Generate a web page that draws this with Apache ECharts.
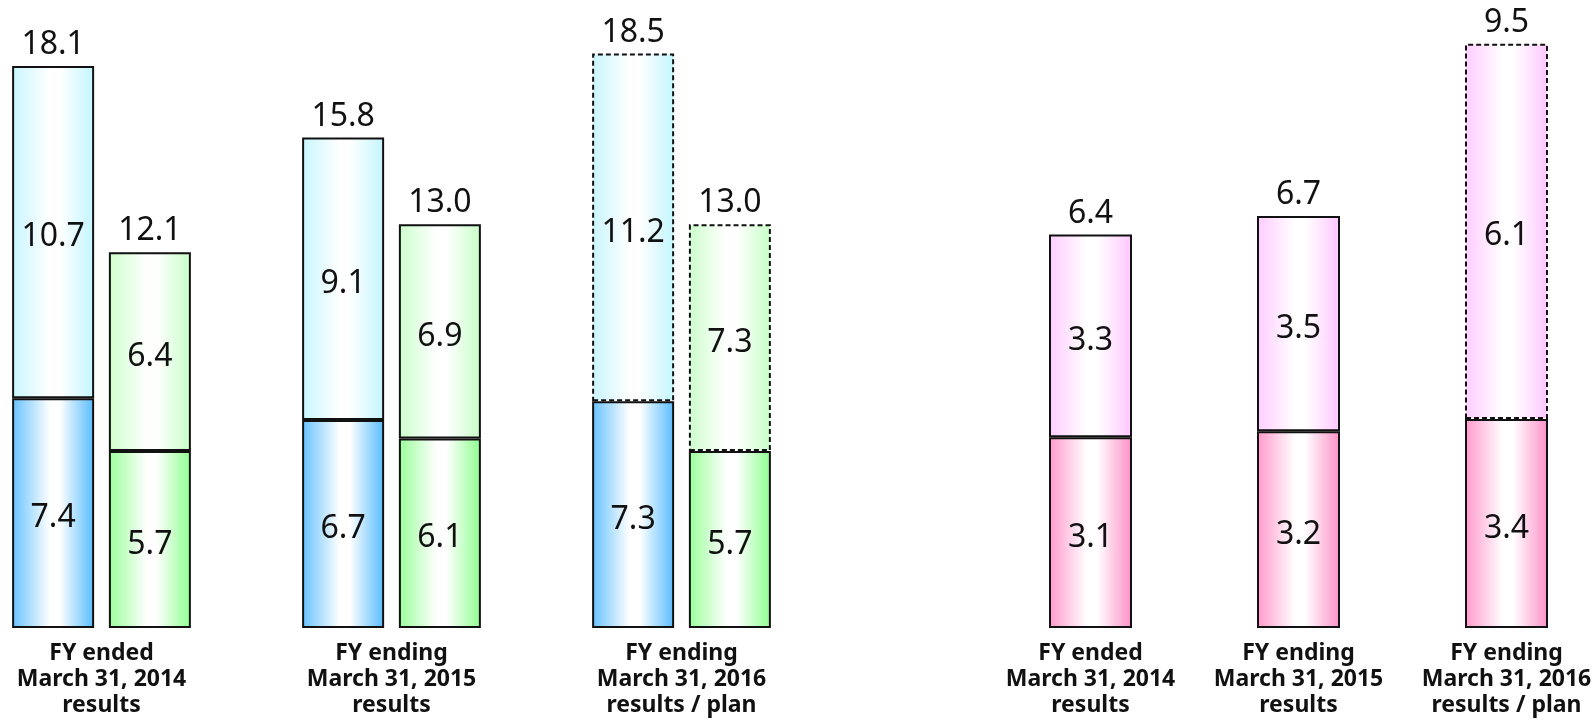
<!DOCTYPE html>
<html>
<head>
<meta charset="utf-8">
<title>Results by fiscal year</title>
<script src="https://cdn.jsdelivr.net/npm/echarts@6/dist/echarts.min.js"></script>
<style>
  html, body { margin: 0; padding: 0; background: #ffffff; overflow: hidden; }
  #wrap { width: 1594px; height: 721px; overflow: hidden; position: relative; }
  /* the canvas extends past both edges so the outer bars can sit close to the page border */
  #chart { position: absolute; left: -60px; top: 0; width: 1714px; height: 721px; }
</style>
</head>
<body>
<div id="wrap"><div id="chart"></div></div>
<script>
// Fiscal-year categories (shared by both panels)
const categories = [
  'FY ended\nMarch 31, 2014\nresults',
  'FY ending\nMarch 31, 2015\nresults',
  'FY ending\nMarch 31, 2016\nresults / plan'
];
// Which categories are plan figures (upper segments drawn dashed)
const isPlan = [false, false, true];

// Left panel: blue stack
const blueLower = [7.4, 6.7, 7.3];
const blueUpper = [10.7, 9.1, 11.2];
// Left panel: green stack
const greenLower = [5.7, 6.1, 5.7];
const greenUpper = [6.4, 6.9, 7.3];
// Right panel: pink stack
const pinkLower = [3.1, 3.2, 3.4];
const pinkUpper = [3.3, 3.5, 6.1];

const FONT = '"Noto Sans", "Open Sans", sans-serif';
const SHIFT = 60; // offset of the canvas relative to the page

function grad(c) {
  return {
    type: 'linear', x: 0, y: 0, x2: 1, y2: 0,
    colorStops: [
      { offset: 0, color: c },
      { offset: 0.46, color: '#ffffff' },
      { offset: 0.58, color: '#ffffff' },
      { offset: 0.96, color: c },
      { offset: 1, color: c }
    ]
  };
}

const valueLabel = {
  show: true,
  position: 'inside',
  offset: [0, 5],
  fontFamily: FONT,
  fontSize: 32,
  color: '#111111',
  formatter: p => p.value.toFixed(1)
};

function segment(name, values, color, stack, axisIdx, dashedFlags) {
  return {
    name: name,
    type: 'bar',
    stack: stack,
    xAxisIndex: axisIdx,
    yAxisIndex: axisIdx,
    barWidth: axisIdx === 0 ? 82 : 83,
    barGap: '18%',
    data: values.map((v, i) => ({
      value: v,
      itemStyle: {
        borderType: dashedFlags && dashedFlags[i] ? [5, 3] : 'solid'
      }
    })),
    itemStyle: {
      color: grad(color),
      borderColor: '#111111',
      borderWidth: 2
    },
    label: valueLabel,
    emphasis: { disabled: true },
    animation: false
  };
}

// Zero-height bar on top of each stack carrying the stack total as its label
function totalSeries(stack, lower, upper, axisIdx) {
  const totals = lower.map((v, i) => v + upper[i]);
  return {
    type: 'bar',
    stack: stack,
    xAxisIndex: axisIdx,
    yAxisIndex: axisIdx,
    barWidth: axisIdx === 0 ? 82 : 83,
    barGap: '18%',
    data: totals.map(() => 0),
    itemStyle: { color: 'transparent', borderWidth: 0 },
    label: {
      show: true,
      position: 'top',
      distance: 5,
      fontFamily: FONT,
      fontSize: 32,
      color: '#111111',
      formatter: p => totals[p.dataIndex].toFixed(1)
    },
    emphasis: { disabled: true },
    animation: false
  };
}

const catAxis = (gridIndex) => ({
  type: 'category',
  gridIndex: gridIndex,
  data: categories,
  axisLine: { show: false },
  axisTick: { show: false },
  axisLabel: {
    margin: 12,
    fontFamily: FONT,
    fontWeight: 'bold',
    fontSize: 23,
    lineHeight: 26,
    color: '#111111',
    interval: 0
  }
});

const valAxis = (gridIndex, max) => ({
  type: 'value',
  gridIndex: gridIndex,
  min: 0,
  max: max,
  show: false,
  splitLine: { show: false }
});

const option = {
  backgroundColor: '#ffffff',
  animation: false,
  grid: [
    { left: -43.5 + SHIFT, width: 870, top: 7, bottom: 93 },
    { left: 986.5 + SHIFT, width: 624, top: 13, bottom: 93 }
  ],
  xAxis: [catAxis(0), catAxis(1)],
  yAxis: [valAxis(0, 20), valAxis(1, 10)],
  series: [
    segment('blueLower', blueLower, '#66c2ff', 'blue', 0, null),
    segment('blueUpper', blueUpper, '#c8f6ff', 'blue', 0, isPlan),
    totalSeries('blue', blueLower, blueUpper, 0),
    segment('greenLower', greenLower, '#99ff99', 'green', 0, null),
    segment('greenUpper', greenUpper, '#ccffcc', 'green', 0, isPlan),
    totalSeries('green', greenLower, greenUpper, 0),
    segment('pinkLower', pinkLower, '#ff99cc', 'pink', 1, null),
    segment('pinkUpper', pinkUpper, '#ffccff', 'pink', 1, isPlan),
    totalSeries('pink', pinkLower, pinkUpper, 1)
  ]
};

const chart = echarts.init(document.getElementById('chart'), null, { renderer: 'canvas' });
chart.setOption(option);
</script>
</body>
</html>
